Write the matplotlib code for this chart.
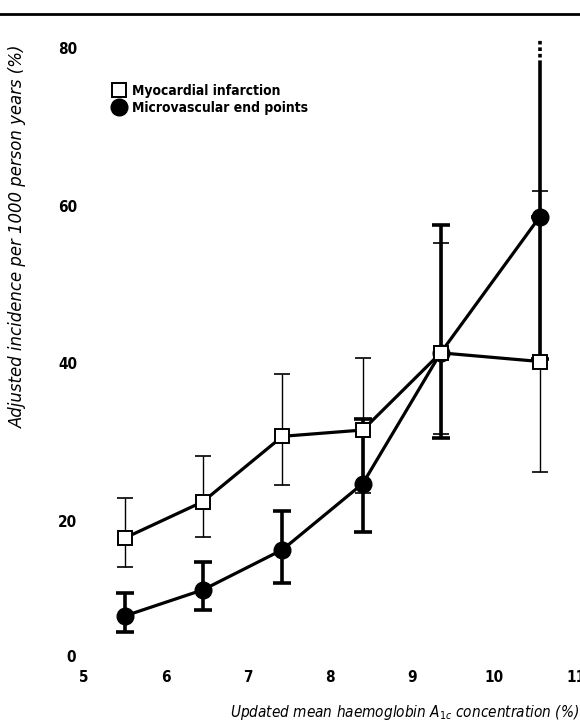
import matplotlib
matplotlib.use("Agg")
import matplotlib.pyplot as plt
from matplotlib.lines import Line2D
import numpy as np

plt.rcParams['font.family'] = ['DejaVu Sans', 'Liberation Sans']
plt.rcParams['font.stretch'] = 'condensed'

# HbA1c category means (x) and adjusted incidence (%)
hba1c = np.array([5.5, 6.45, 7.42, 8.4, 9.35, 10.56])

mi_val = np.array([17.8, 22.4, 30.7, 31.5, 41.3, 40.2])
mi_hi = np.array([22.9, 28.2, 38.6, 40.7, 55.3, 61.9])
mi_lo = np.array([14.1, 17.9, 24.5, 23.5, 31.0, 26.2])

mv_val = np.array([7.9, 11.2, 16.3, 24.7, 41.3, 58.6])
mv_hi = np.array([10.8, 14.7, 21.2, 32.9, 57.6, 78.0])
mv_lo = np.array([5.8, 8.6, 12.1, 18.6, 30.5, 40.5])
mv_hi_beyond = 81.0  # last upper limit runs off the scale (dotted)

xticks = [5, 6, 7, 8, 9, 10, 11]
yticks = [20, 40, 60, 80]

fig = plt.figure(figsize=(5.8, 7.24), dpi=100)
ax = fig.add_axes([0.145, 0.0635, 0.848, 0.870])

# microvascular end points: thick bars, filled circles
# last upper limit has no cap: it runs off the top of the scale
up_err = mv_hi - mv_val
up_err[-1] = 0
ax.errorbar(hba1c, mv_val, yerr=[mv_val - mv_lo, up_err], fmt='none',
            ecolor='black', elinewidth=2.6, capsize=6.5, capthick=2.6, zorder=2)
ax.vlines(hba1c[-1], mv_val[-1], mv_hi[-1], colors='black', linewidth=2.6, zorder=2)
ax.vlines(hba1c[-1], mv_hi[-1], mv_hi_beyond, colors='black', linewidth=2.6,
          linestyles=(0, (1, 0.8)), clip_on=False, zorder=2)
ax.plot(hba1c, mv_val, color='black', linewidth=2.3, marker='o', markersize=12,
        markerfacecolor='black', zorder=3)

# myocardial infarction: thin bars, open squares
ax.errorbar(hba1c, mi_val, yerr=[mi_val - mi_lo, mi_hi - mi_val], fmt='none',
            ecolor='black', elinewidth=1.0, capsize=6, capthick=1.2, zorder=4)
ax.plot(hba1c, mi_val, color='black', linewidth=2.3, marker='s', markersize=10,
        markerfacecolor='white', markeredgecolor='black', markeredgewidth=1.4, zorder=5)

ax.set_xlim(5, 11)
ax.set_ylim(0, 80)
ax.set_xticks(xticks)
ax.set_yticks(yticks)
ax.tick_params(length=0, labelsize=11)
ax.tick_params(axis='x', pad=-6)
ax.tick_params(axis='y', pad=5)
for lab in ax.get_xticklabels() + ax.get_yticklabels():
    lab.set_fontweight('bold')
for s in ax.spines.values():
    s.set_visible(False)
ax.annotate('0', xy=(5, 0), xytext=(-9, 15), textcoords='offset points',
            ha='center', va='center', fontsize=11, fontweight='bold',
            annotation_clip=False)

fig.text(579 / 580, 1 - 713 / 724,
         r'Updated mean haemoglobin $\mathit{A}_{\mathit{1c}}$ concentration (%)',
         ha='right', va='center', fontsize=11, style='italic')
fig.text(18 / 580, 1 - 45 / 724, 'Adjusted incidence per 1000 person years (%)',
         ha='center', va='top', rotation=90, fontsize=13.2, style='italic')

handles = [Line2D([], [], linestyle='none', marker='s', markersize=10,
                  markerfacecolor='white', markeredgecolor='black', markeredgewidth=1.4),
           Line2D([], [], linestyle='none', marker='o', markersize=12,
                  markerfacecolor='black', markeredgecolor='black')]
leg = ax.legend(handles, ['Myocardial infarction', 'Microvascular end points'],
                loc='upper left', bbox_to_anchor=(105 / 580, 1 - 77 / 724),
                bbox_transform=fig.transFigure, frameon=False, borderpad=0,
                handlelength=1.0, handletextpad=0.45, labelspacing=0.2,
                prop={'size': 10, 'weight': 'bold', 'stretch': 'condensed'})

fig.add_artist(Line2D([0, 1], [1 - 14 / 724, 1 - 14 / 724], color='black',
                      linewidth=2.0, transform=fig.transFigure))

fig.savefig('out.png', dpi=100)
